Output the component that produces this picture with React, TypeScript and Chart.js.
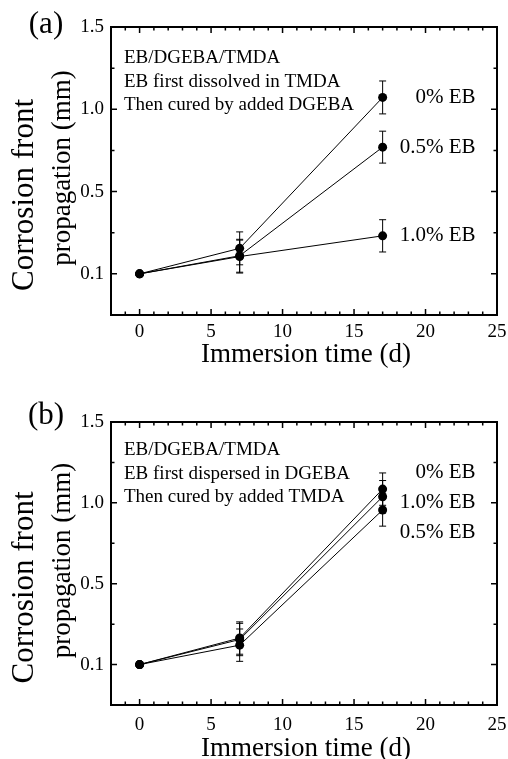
import React, { useEffect, useRef } from 'react';
import { Chart, registerables } from 'chart.js';
Chart.register(...registerables);

// ---- data (y values are in axis units; the lowest tick is printed "0.1" on the source) ----
const days = [0, 7, 17];
const xMajorTicks = [0, 5, 10, 15, 20, 25];
const yTickValues = [0, 0.5, 1.0, 1.5];
const yTickLabels = ['0.1', '0.5', '1.0', '1.5'];

const seriesNames = ['0% EB', '0.5% EB', '1.0% EB'];

// panel (a)
const a0 = [0, 0.155, 1.072];
const a0Err = [0, 0.1, 0.1];
const a05 = [0, 0.11, 0.77];
const a05Err = [0, 0.1, 0.097];
const a10 = [0, 0.105, 0.231];
const a10Err = [0, 0.1, 0.098];
const aNotes = ['EB/DGEBA/TMDA', 'EB first dissolved in TMDA', 'Then cured by added DGEBA'];
const aLabelY = [1.072, 0.77, 0.231];

// panel (b)
const b0 = [0, 0.164, 1.085];
const b0Err = [0, 0.1, 0.1];
const b05 = [0, 0.12, 0.956];
const b05Err = [0, 0.1, 0.1];
const b10 = [0, 0.155, 1.038];
const b10Err = [0, 0.1, 0.1];
const bNotes = ['EB/DGEBA/TMDA', 'EB first dispersed in DGEBA', 'Then cured by added TMDA'];
const bLabelY = [1.19, 0.814, 1.005];

const xTitle = 'Immersion time (d)';
const yTitle1 = 'Corrosion front';
const yTitle2 = 'propagation (mm)';
const labelX = 23.5;

const FONT = '"Liberation Serif", "Times New Roman", serif';

type PanelCfg = {
  tag: string;
  height: number;
  top: number;
  xAxisH: number;
  xTickPad: number;
  xTitleOff: number;
  noteOff: number;
  series: number[][];
  errs: number[][];
  notes: string[];
  labelY: number[];
};

const panels: PanelCfg[] = [
  { tag: '(a)', height: 380, top: 27, xAxisH: 65, xTickPad: 6, xTitleOff: 47, noteOff: 36, series: [a0, a05, a10], errs: [a0Err, a05Err, a10Err], notes: aNotes, labelY: aLabelY },
  { tag: '(b)', height: 379, top: 42, xAxisH: 54, xTickPad: 9, xTitleOff: 51, noteOff: 33, series: [b0, b05, b10], errs: [b0Err, b05Err, b10Err], notes: bNotes, labelY: bLabelY },
];

function makeDecor(cfg: PanelCfg) {
  return {
    id: 'decor' + cfg.tag,
    afterDatasetsDraw(chart: any) {
      const ctx: CanvasRenderingContext2D = chart.ctx;
      const ca = chart.chartArea;
      const xs = chart.scales.x;
      const ys = chart.scales.y;
      ctx.save();
      ctx.strokeStyle = '#000';
      ctx.fillStyle = '#000';
      // error bars
      ctx.lineWidth = 1;
      cfg.series.forEach((vals, si) => {
        vals.forEach((v, i) => {
          const e = cfg.errs[si][i];
          if (!e) return;
          const px = xs.getPixelForValue(days[i]);
          const pt = ys.getPixelForValue(v + e);
          const pb = ys.getPixelForValue(v - e);
          ctx.beginPath();
          ctx.moveTo(px, pt); ctx.lineTo(px, pb);
          ctx.moveTo(px - 3.5, pt); ctx.lineTo(px + 3.5, pt);
          ctx.moveTo(px - 3.5, pb); ctx.lineTo(px + 3.5, pb);
          ctx.stroke();
        });
      });
      // ticks (inward, all sides)
      ctx.lineWidth = 1.5;
      ctx.beginPath();
      for (let t = -2; t <= 25; t++) {
        const len = t % 5 === 0 ? 6 : 3.5;
        const px = xs.getPixelForValue(t);
        ctx.moveTo(px, ca.bottom); ctx.lineTo(px, ca.bottom - len);
        ctx.moveTo(px, ca.top); ctx.lineTo(px, ca.top + len);
      }
      for (let k = -1; k <= 6; k++) {
        const v = k * 0.25;
        const len = k % 2 === 0 ? 6 : 3.5;
        const py = ys.getPixelForValue(v);
        ctx.moveTo(ca.left, py); ctx.lineTo(ca.left + len, py);
        ctx.moveTo(ca.right, py); ctx.lineTo(ca.right - len, py);
      }
      ctx.stroke();
      // border
      ctx.lineWidth = 2;
      ctx.strokeRect(ca.left, ca.top, ca.right - ca.left, ca.bottom - ca.top);
      // notes
      ctx.font = `19px ${FONT}`;
      ctx.textAlign = 'left';
      ctx.textBaseline = 'alphabetic';
      cfg.notes.forEach((s, i) => ctx.fillText(s, ca.left + 13, ca.top + cfg.noteOff + i * 23.5));
      // series labels
      ctx.font = `21px ${FONT}`;
      ctx.textAlign = 'right';
      ctx.textBaseline = 'middle';
      seriesNames.forEach((s, i) => ctx.fillText(s, xs.getPixelForValue(labelX), ys.getPixelForValue(cfg.labelY[i])));
      // x title
      ctx.font = `27px ${FONT}`;
      ctx.textAlign = 'center';
      ctx.textBaseline = 'alphabetic';
      ctx.fillText(xTitle, 306, ca.bottom + cfg.xTitleOff);
      // y title
      const cy = (ca.top + ca.bottom) / 2;
      ctx.save();
      ctx.translate(33, cy + 24);
      ctx.rotate(-Math.PI / 2);
      ctx.font = `31px ${FONT}`;
      ctx.fillText(yTitle1, 0, 0);
      ctx.restore();
      ctx.save();
      ctx.translate(70, cy - 3);
      ctx.rotate(-Math.PI / 2);
      ctx.font = `27px ${FONT}`;
      ctx.fillText(yTitle2, 0, 0);
      ctx.restore();
      // panel tag
      ctx.font = `31px ${FONT}`;
      ctx.textAlign = 'center';
      ctx.textBaseline = 'middle';
      ctx.fillText(cfg.tag, 46, cfg.tag === '(a)' ? 25 : 36);
      ctx.restore();
    },
  };
}

function Panel({ cfg }: { cfg: PanelCfg }) {
  const ref = useRef<HTMLCanvasElement>(null);
  useEffect(() => {
    if (!ref.current) return;
    const chart = new Chart(ref.current, {
      type: 'line',
      data: {
        datasets: cfg.series.map((vals, si) => ({
          label: seriesNames[si],
          data: days.map((d, i) => ({ x: d, y: vals[i] })),
          borderColor: '#000',
          backgroundColor: '#000',
          borderWidth: 1,
          pointRadius: 4.5,
          pointBorderWidth: 0,
          pointBackgroundColor: '#000',
          tension: 0,
          fill: false,
        })),
      },
      options: {
        animation: false,
        responsive: false,
        layout: { padding: { left: 0, right: 11, top: cfg.top, bottom: 0 } },
        plugins: { legend: { display: false }, tooltip: { enabled: false } },
        scales: {
          x: {
            type: 'linear',
            min: -2,
            max: 25,
            grid: { display: false, drawTicks: false },
            border: { display: false },
            ticks: {
              color: '#000',
              font: { family: FONT, size: 19 },
              padding: cfg.xTickPad,
              autoSkip: false,
              maxRotation: 0,
              callback: (v: any) => String(v),
            },
            afterBuildTicks: (s: any) => { s.ticks = xMajorTicks.map((v) => ({ value: v })); },
            afterFit: (s: any) => {
              s.height = cfg.xAxisH;
              s.paddingLeft = 0; s.paddingRight = 0; s.paddingTop = 0; s.paddingBottom = 0;
            },
          },
          y: {
            type: 'linear',
            min: -0.25,
            max: 1.5,
            grid: { display: false, drawTicks: false },
            border: { display: false },
            ticks: {
              color: '#000',
              font: { family: FONT, size: 19 },
              padding: 7,
              autoSkip: false,
              callback: (_v: any, i: number) => yTickLabels[i],
            },
            afterBuildTicks: (s: any) => { s.ticks = yTickValues.map((v) => ({ value: v })); },
            afterFit: (s: any) => {
              s.width = 111;
              s.paddingLeft = 0; s.paddingRight = 0; s.paddingTop = 0; s.paddingBottom = 0;
            },
          },
        },
      } as any,
      plugins: [makeDecor(cfg)],
    });
    return () => chart.destroy();
  }, [cfg]);
  return <canvas ref={ref} width={508} height={cfg.height} style={{ display: 'block', width: 508, height: cfg.height }} />;
}

export default function App() {
  return (
    <div style={{ position: 'absolute', left: 0, top: 0, width: 508, height: 759, background: '#fff' }}>
      <Panel cfg={panels[0]} />
      <Panel cfg={panels[1]} />
    </div>
  );
}
